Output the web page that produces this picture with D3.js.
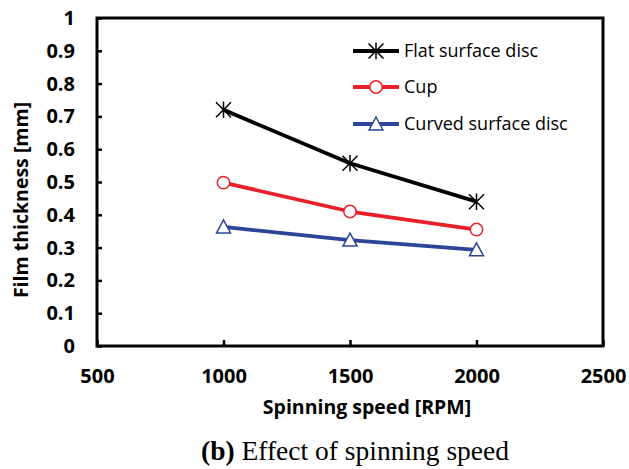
<!DOCTYPE html>
<html>
<head>
<meta charset="utf-8">
<script src="https://cdn.jsdelivr.net/npm/d3@7"></script>
<style>
  html, body { margin: 0; padding: 0; background: #fff; }
  svg { display: block; }
</style>
</head>
<body>
<svg id="chart" width="629" height="469"></svg>
<script>
// Film thickness versus spinning speed for three atomiser geometries
const speeds = [1000, 1500, 2000];
const flatDisc = [0.72, 0.557, 0.44];
const cup = [0.498, 0.41, 0.355];
const curvedDisc = [0.363, 0.323, 0.293];
const seriesNames = ["Flat surface disc", "Cup", "Curved surface disc"];
const xTicks = [500, 1000, 1500, 2000, 2500];
const yTicks = [0, 0.1, 0.2, 0.3, 0.4, 0.5, 0.6, 0.7, 0.8, 0.9, 1];

const series = [
  { name: seriesNames[0], values: flatDisc, color: "#000000", marker: "star" },
  { name: seriesNames[1], values: cup, color: "#e8202a", marker: "circle" },
  { name: seriesNames[2], values: curvedDisc, color: "#2e4597", marker: "triangle" }
];

const svg = d3.select("#chart");
const plotL = 97, plotR = 603, plotT = 18, plotB = 346;

const x = d3.scaleLinear().domain([500, 2500]).range([plotL, plotR]);
const y = d3.scaleLinear().domain([0, 1]).range([plotB, plotT]);

const labelFont = "'Open Sans', 'Liberation Sans', sans-serif";

// Frame
svg.append("rect")
  .attr("x", plotL).attr("y", plotT)
  .attr("width", plotR - plotL).attr("height", plotB - plotT)
  .attr("fill", "none").attr("stroke", "#000").attr("stroke-width", 3);

// Y axis (inward ticks)
const yAxis = d3.axisLeft(y).tickValues(yTicks).tickSize(-5).tickPadding(22)
  .tickFormat(d => d === 0 || d === 1 ? String(d) : d.toFixed(1));
const gy = svg.append("g").attr("transform", `translate(${plotL},0)`).call(yAxis);
gy.select(".domain").remove();
gy.selectAll(".tick line").attr("stroke", "#000").attr("stroke-width", 2.5);
gy.selectAll(".tick text")
  .attr("font-family", labelFont).attr("font-weight", "bold")
  .attr("font-size", 20).attr("fill", "#000");

// X axis (inward ticks)
const xAxis = d3.axisBottom(x).tickValues(xTicks).tickSize(-6).tickPadding(23)
  .tickFormat(d3.format("d"));
const gx = svg.append("g").attr("transform", `translate(0,${plotB})`).call(xAxis);
gx.select(".domain").remove();
gx.selectAll(".tick line").attr("stroke", "#000").attr("stroke-width", 2.5);
gx.selectAll(".tick text")
  .attr("font-family", labelFont).attr("font-weight", "bold")
  .attr("font-size", 20).attr("fill", "#000");

// Axis titles
svg.append("text")
  .attr("x", 367).attr("y", 414)
  .attr("text-anchor", "middle")
  .attr("font-family", labelFont).attr("font-weight", "bold").attr("font-size", 19.5)
  .text("Spinning speed [RPM]");

svg.append("text")
  .attr("transform", `translate(28,200) rotate(-90)`)
  .attr("text-anchor", "middle")
  .attr("font-family", labelFont).attr("font-weight", "bold").attr("font-size", 19.5)
  .text("Film thickness [mm]");

// Markers
function drawMarker(g, type, cx, cy, color) {
  if (type === "circle") {
    g.append("circle").attr("cx", cx).attr("cy", cy).attr("r", 6.2)
      .attr("fill", "#fff").attr("stroke", color).attr("stroke-width", 1.5);
  } else if (type === "triangle") {
    const s = 7;
    g.append("path")
      .attr("d", `M${cx},${cy - s}L${cx + s},${cy + s * 0.85}L${cx - s},${cy + s * 0.85}Z`)
      .attr("fill", "#fff").attr("stroke", color).attr("stroke-width", 1.5);
  } else {
    const s = 7.5;
    g.append("path")
      .attr("d", `M${cx - s},${cy - s}L${cx + s},${cy + s}M${cx - s},${cy + s}L${cx + s},${cy - s}M${cx},${cy - s * 1.1}L${cx},${cy + s * 1.1}`)
      .attr("fill", "none").attr("stroke", color).attr("stroke-width", 1.5);
  }
}

const line = d3.line().x(d => x(d[0])).y(d => y(d[1]));

series.forEach(s => {
  const pts = speeds.map((v, i) => [v, s.values[i]]);
  svg.append("path").datum(pts)
    .attr("d", line)
    .attr("fill", "none").attr("stroke", s.color).attr("stroke-width", 3.8)
    .attr("stroke-linejoin", "round");
  const g = svg.append("g");
  pts.forEach(p => drawMarker(g, s.marker, x(p[0]), y(p[1]), s.color));
});

// Legend
const legendY = [51, 87, 124];
series.forEach((s, i) => {
  const g = svg.append("g");
  g.append("line")
    .attr("x1", 353).attr("x2", 399).attr("y1", legendY[i]).attr("y2", legendY[i])
    .attr("stroke", s.color).attr("stroke-width", 3.8);
  drawMarker(g, s.marker, 376, legendY[i], s.color);
  g.append("text")
    .attr("x", 404).attr("y", legendY[i]).attr("dy", "0.33em")
    .attr("font-family", labelFont).attr("font-size", 18).attr("fill", "#000")
    .text(s.name);
});

// Caption
const cap = svg.append("text")
  .attr("x", 355).attr("y", 460)
  .attr("text-anchor", "middle")
  .attr("font-family", "'Liberation Serif', 'DejaVu Serif', serif")
  .attr("font-size", 27.5).attr("fill", "#000");
cap.append("tspan").attr("font-weight", "bold").text("(b)");
cap.append("tspan").text(" Effect of spinning speed");
</script>
</body>
</html>
